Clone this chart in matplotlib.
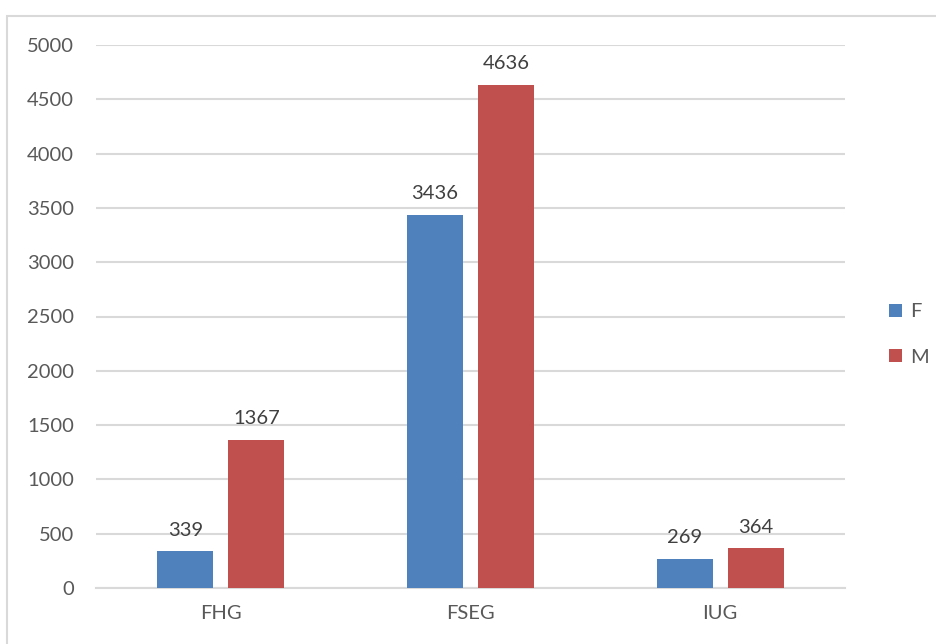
import matplotlib.pyplot as plt
import numpy as np
from matplotlib.patches import Rectangle

# data
categories = ["FHG", "FSEG", "IUG"]
f_values = [339, 3436, 269]
m_values = [1367, 4636, 364]

blue = "#4F81BD"
red = "#C0504D"
grid = "#D9D9D9"
text = "#595959"

plt.rcParams["font.family"] = ["Lato", "DejaVu Sans"]

fig = plt.figure(figsize=(9.37, 6.44), dpi=100)
ax = fig.add_axes([96 / 937, 1 - 588 / 644, 749 / 937, 543 / 644])

# outer chart border
fig.patches.append(Rectangle((7 / 937, -0.1), 1.2, 1 - 16 / 644 + 0.1,
                             transform=fig.transFigure, fill=False,
                             edgecolor=grid, linewidth=1.5))

x = np.arange(len(categories))
w = 0.224
gap = 0.06
b1 = ax.bar(x - (w + gap) / 2, f_values, w, color=blue, label="F", zorder=3)
b2 = ax.bar(x + (w + gap) / 2, m_values, w, color=red, label="M", zorder=3)

for bars in (b1, b2):
    for r in bars:
        ax.annotate(str(int(r.get_height())),
                    (r.get_x() + r.get_width() / 2, r.get_height()),
                    xytext=(0, 9), textcoords="offset points",
                    ha="center", va="bottom", fontsize=14.5, color="#404040")

ax.set_xlim(-0.5, 2.5)
ax.set_ylim(0, 5000)
ax.set_yticks(np.arange(0, 5001, 500))
ax.set_xticks(x)
ax.set_xticklabels(categories)
ax.tick_params(axis="both", length=0, labelsize=14.5, labelcolor=text)
ax.tick_params(axis="y", pad=16)
ax.tick_params(axis="x", pad=12)
ax.yaxis.grid(True, color=grid, linewidth=1.5, zorder=0)
for s in ["top", "right", "left"]:
    ax.spines[s].set_visible(False)
ax.spines["bottom"].set_color(grid)
ax.spines["bottom"].set_linewidth(1.5)

leg = ax.legend(loc="center left", bbox_to_anchor=(1.035, 0.467), frameon=False,
                fontsize=14.5, handlelength=0.65, handleheight=0.65,
                handletextpad=0.4, labelspacing=1.4, labelcolor=text)

fig.savefig("out.png", dpi=100)
